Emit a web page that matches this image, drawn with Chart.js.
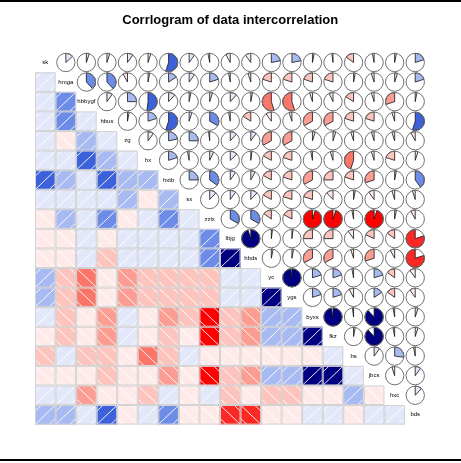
<!DOCTYPE html>
<html><head><meta charset="utf-8">
<script src="https://cdn.jsdelivr.net/npm/chart.js@4/dist/chart.umd.min.js"></script>
<style>
html,body{margin:0;padding:0;background:#fff;}
#wrap{position:relative;width:461px;height:463px;overflow:hidden;background:#fff;}
#topline{position:absolute;left:0;top:0;width:461px;height:2px;background:#000;}
#botline{position:absolute;left:0;top:459px;width:461px;height:2px;background:#000;}
canvas{position:absolute;left:0;top:0;}
</style></head><body>
<div id="wrap"><canvas id="c" width="461" height="463"></canvas><div id="topline"></div><div id="botline"></div></div>
<script>
// ---- data ----
const variables = ["sk","hmga","hbbygf","hbus","zg","hx","hxtb","sx","zzlx","lbjg","hbds","yc","ygs","byxs","fkz","hs","jbcs","hxc","bds"];
const corr_hmga   = [0.13];
const corr_hbbygf = [0.05, 0.38];
const corr_hbus   = [0.05, 0.38, 0.10];
const corr_zg     = [0.10, -0.08, 0.25, 0.03];
const corr_hx     = [0.05, 0.03, 0.52, 0.20, 0.10];
const corr_hxtb   = [0.55, 0.16, 0.12, 0.55, 0.22, 0.20];
const corr_sx     = [0.10, 0.10, 0.03, 0.05, 0.25, -0.03, 0.25];
const corr_zzlx   = [-0.03, 0.20, 0.05, 0.33, -0.02, 0.07, 0.35, 0.12];
const corr_lbjg   = [-0.08, -0.03, 0.12, -0.03, 0.12, 0.13, 0.10, 0.10, 0.33];
const corr_hbds   = [-0.10, -0.05, 0.03, -0.16, 0.10, 0.02, 0.08, 0.12, 0.33, 0.95];
const corr_yc     = [0.22, -0.20, -0.55, -0.10, -0.33, -0.17, -0.17, -0.17, -0.15, 0.02, 0.03];
const corr_ygs    = [0.22, -0.20, -0.55, -0.05, -0.33, -0.20, -0.20, -0.20, -0.17, 0.02, 0.03, 0.98];
const corr_byxs   = [0.03, -0.20, -0.05, -0.33, 0.05, -0.03, -0.33, -0.20, -0.95, -0.25, -0.33, 0.20, 0.20];
const corr_fkz    = [-0.02, -0.20, -0.07, -0.33, 0.05, -0.05, -0.25, -0.12, -0.95, -0.25, -0.33, 0.20, 0.20, 0.97];
const corr_hs     = [-0.15, 0.03, -0.16, -0.20, -0.05, -0.45, -0.20, 0.03, -0.03, -0.10, -0.05, -0.03, -0.08, -0.02, 0.03];
const corr_jbcs   = [-0.03, -0.05, -0.05, -0.20, -0.05, -0.05, -0.30, -0.10, -0.95, -0.18, -0.30, 0.20, 0.16, 0.88, 0.88, 0.10];
const corr_hxc    = [0.03, 0.05, -0.30, -0.05, -0.05, -0.20, 0.03, -0.05, 0.03, -0.15, -0.08, -0.15, -0.15, -0.03, -0.03, 0.27, -0.05];
const corr_bds    = [0.20, 0.20, 0.03, 0.55, -0.08, 0.05, 0.40, -0.05, -0.08, -0.80, -0.80, -0.10, -0.10, 0.05, 0.05, -0.03, 0.10, 0.12];
const titleText = "Corrlogram of data intercorrelation";

const lowerRows = [[], corr_hmga, corr_hbbygf, corr_hbus, corr_zg, corr_hx, corr_hxtb, corr_sx, corr_zzlx,
  corr_lbjg, corr_hbds, corr_yc, corr_ygs, corr_byxs, corr_fkz, corr_hs, corr_jbcs, corr_hxc, corr_bds];
function corrAt(i, j){ if (i === j) return 1; return i > j ? lowerRows[i][j] : lowerRows[j][i]; }

const shadePts = [], piePts = [], diagPts = [];
const n = variables.length;
for (let i = 0; i < n; i++) for (let j = 0; j < n; j++) {
  if (i > j) shadePts.push({x: j, y: i, v: corrAt(i, j)});
  else if (i < j) piePts.push({x: j, y: i, v: corrAt(i, j)});
  else diagPts.push({x: j, y: i, label: variables[i]});
}

// ---- palette (red, salmon, white, royalblue, navy), 14 bins ----
const anchors = [[255,0,0],[250,128,114],[255,255,255],[65,105,225],[0,0,128]];
const NCOL = 14;
const pal = [];
for (let k = 0; k < NCOL; k++) {
  const t = k / (NCOL - 1) * (anchors.length - 1);
  const s = Math.min(Math.floor(t), anchors.length - 2), f = t - s;
  const c = anchors[s].map((a, q) => Math.round(a + (anchors[s + 1][q] - a) * f));
  pal.push(`rgb(${c[0]},${c[1]},${c[2]})`);
}
function colorFor(v){ let k = Math.ceil((v + 1) * NCOL / 2) - 1; return pal[Math.max(0, Math.min(NCOL - 1, k))]; }

const corrPlugin = {
  id: 'corrgram',
  afterDatasetsDraw(chart){
    const ctx = chart.ctx, xs = chart.scales.x, ys = chart.scales.y;
    const cell = (p) => {
      const xa = xs.getPixelForValue(p.x - 0.5), xb = xs.getPixelForValue(p.x + 0.5);
      const ya = ys.getPixelForValue(p.y - 0.5), yb = ys.getPixelForValue(p.y + 0.5);
      return {x0: Math.min(xa, xb), x1: Math.max(xa, xb), y0: Math.min(ya, yb), y1: Math.max(ya, yb)};
    };
    ctx.save();
    // lower: shaded cells
    chart.data.datasets[0].data.forEach(p => {
      const c = cell(p), w = c.x1 - c.x0, h = c.y1 - c.y0;
      ctx.fillStyle = colorFor(p.v);
      ctx.fillRect(c.x0, c.y0, w, h);
      ctx.save();
      ctx.beginPath(); ctx.rect(c.x0, c.y0, w, h); ctx.clip();
      ctx.strokeStyle = 'rgba(255,255,255,0.9)'; ctx.lineWidth = 1;
      [-14, 0, 14].forEach(k => {
        ctx.beginPath();
        if (p.v > 0) { ctx.moveTo(c.x0 + k, c.y1); ctx.lineTo(c.x1 + k, c.y0); }
        else { ctx.moveTo(c.x0 + k, c.y0); ctx.lineTo(c.x1 + k, c.y1); }
        ctx.stroke();
      });
      ctx.restore();
      ctx.strokeStyle = '#d3d3d3'; ctx.lineWidth = 1;
      ctx.strokeRect(c.x0 + 0.5, c.y0 + 0.5, w - 1, h - 1);
    });
    // upper: pies
    chart.data.datasets[1].data.forEach(p => {
      const c = cell(p);
      const cx = (c.x0 + c.x1) / 2, cy = (c.y0 + c.y1) / 2;
      const R = Math.min(c.x1 - c.x0, c.y1 - c.y0) / 2 - 0.6;
      ctx.beginPath(); ctx.arc(cx, cy, R, 0, Math.PI * 2);
      ctx.fillStyle = '#fff'; ctx.fill();
      const a0 = -Math.PI / 2, sweep = Math.abs(p.v) * Math.PI * 2;
      ctx.beginPath(); ctx.moveTo(cx, cy);
      if (p.v >= 0) ctx.arc(cx, cy, R, a0, a0 + sweep, false);
      else ctx.arc(cx, cy, R, a0, a0 - sweep, true);
      ctx.closePath();
      ctx.fillStyle = colorFor(p.v); ctx.fill();
      ctx.strokeStyle = '#111'; ctx.lineWidth = 0.8; ctx.stroke();
      ctx.beginPath(); ctx.arc(cx, cy, R, 0, Math.PI * 2);
      ctx.strokeStyle = '#707070'; ctx.lineWidth = 1; ctx.stroke();
    });
    // diagonal labels
    ctx.fillStyle = '#000';
    ctx.font = '6px "Liberation Sans", Arial, sans-serif';
    ctx.textAlign = 'center'; ctx.textBaseline = 'middle';
    chart.data.datasets[2].data.forEach(p => {
      const c = cell(p);
      ctx.fillText(p.label, (c.x0 + c.x1) / 2, (c.y0 + c.y1) / 2);
    });
    ctx.restore();
  }
};

new Chart(document.getElementById('c'), {
  type: 'scatter',
  data: { datasets: [
    {label: 'shade', data: shadePts, pointRadius: 0},
    {label: 'pie', data: piePts, pointRadius: 0},
    {label: 'diag', data: diagPts, pointRadius: 0}
  ]},
  options: {
    responsive: false, animation: false, devicePixelRatio: 1,
    layout: {padding: {left: 35, right: 35.5, top: 13, bottom: 38.4}},
    scales: {
      x: {type: 'linear', min: -0.5, max: n - 0.5, display: false},
      y: {type: 'linear', min: -0.5, max: n - 0.5, reverse: true, display: false}
    },
    plugins: {
      legend: {display: false}, tooltip: {enabled: false},
      title: {display: true, text: titleText, color: '#000',
        font: {family: '"Liberation Sans", Arial, sans-serif', size: 13, weight: 'bold', lineHeight: 1.2},
        padding: {top: 0, bottom: 24.1}}
    }
  },
  plugins: [corrPlugin]
});
</script>
</body></html>
